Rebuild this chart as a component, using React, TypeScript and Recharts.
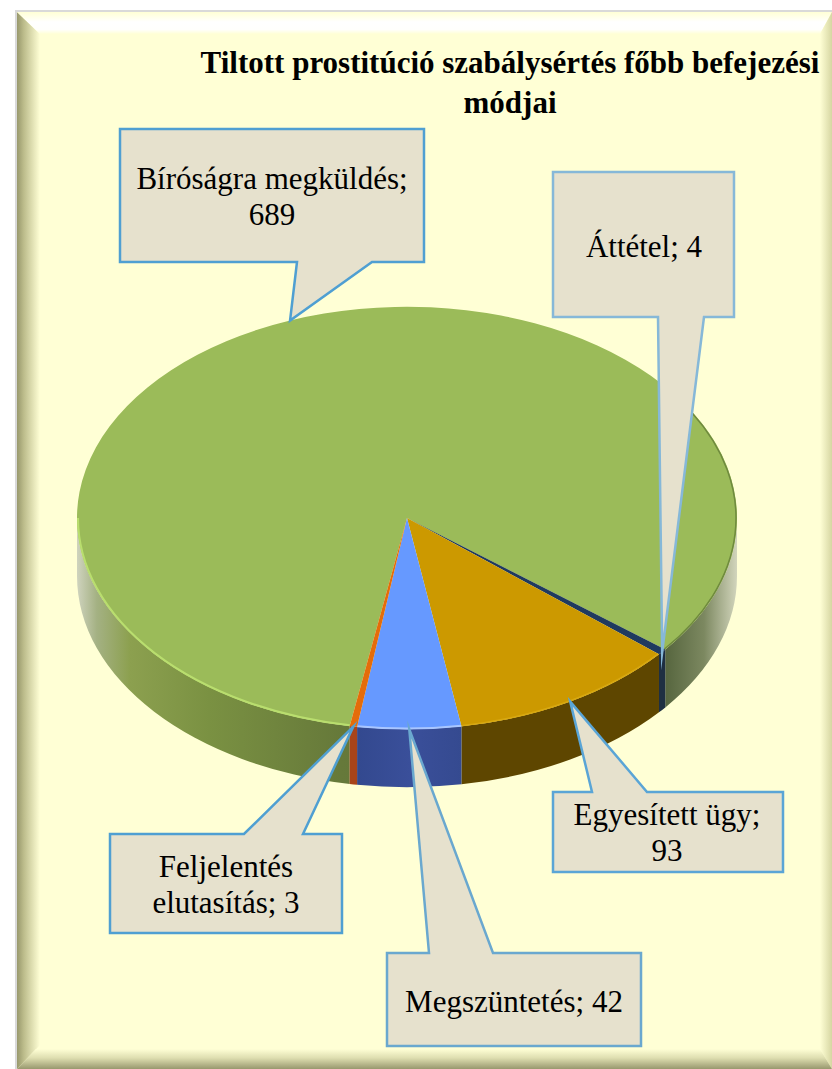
import React from "react";
import { PieChart, Pie } from "recharts";

const categories = ["Bíróságra megküldés", "Áttétel", "Egyesített ügy", "Megszüntetés", "Feljelentés elutasítás"];
const values = [689, 4, 93, 42, 3];
const titleLines = ["Tiltott prostitúció szabálysértés főbb befejezési", "módjai"];

const topColors = ["#9BBB59", "#1F3A5F", "#CC9900", "#6699FF", "#E46C0A"];
const wallFills = ["url(#wallGreen)", "#1E2F42", "#5E4600", "url(#wallBlue)", "#A8441A"];

// callout geometry: box left, top, right, bottom, pointer base a, b, edge of the pointer, text centre and line centres
const callouts = [
  { l: 120, t: 129, r: 424, b: 262, a: 297, c: 372, edge: "bottom", tx: 272, ty: [179, 215], lines: ["Bíróságra megküldés;", "689"], stroke: "#4F9FD2" },
  { l: 553, t: 172, r: 734, b: 317, a: 658, c: 704, edge: "bottom", tx: 644, ty: [247], lines: ["Áttétel; 4"], stroke: "#86B8D8" },
  { l: 553, t: 792, r: 783, b: 872, a: 592, c: 647, edge: "top", tx: 667, ty: [815, 851], lines: ["Egyesített ügy;", "93"], stroke: "#5AA5D6" },
  { l: 387, t: 953, r: 641, b: 1046, a: 429, c: 493, edge: "top", tx: 514, ty: [1002], lines: ["Megszüntetés; 42"], stroke: "#6AA8CF" },
  { l: 110, t: 834, r: 342, b: 933, a: 244, c: 303, edge: "top", tx: 226, ty: [867, 903], lines: ["Feljelentés", "elutasítás; 3"], stroke: "#4F9FD2" },
];

const W = 832;
const H = 1069;
const TILT = 0.64;
const DEPTH = 58;
const RAD = Math.PI / 180;
const FONT = "'Liberation Serif', 'Times New Roman', serif";

const pieData = categories.map((name, i) => ({ name, value: values[i] }));

const pt = (cx: number, cy: number, rx: number, deg: number, dy = 0) => ({
  x: cx + rx * Math.cos(deg * RAD),
  y: cy - rx * TILT * Math.sin(deg * RAD) + dy,
});

const arcTo = (rx: number, p: { x: number; y: number }, sweep: number, large: number) =>
  `A ${rx} ${rx * TILT} 0 ${large} ${sweep} ${p.x} ${p.y}`;

function frontRanges(start: number, end: number) {
  const out: [number, number][] = [];
  for (const k of [-1, 0, 1]) {
    const hi = Math.min(start, 360 * k);
    const lo = Math.max(end, -180 + 360 * k);
    if (hi > lo) out.push([hi, lo]);
  }
  return out;
}

function WallShape(props: any) {
  const { cx, cy, outerRadius: rx, startAngle, endAngle, index } = props;
  return (
    <g>
      {frontRanges(startAngle, endAngle).map(([hi, lo], i) => {
        const a = pt(cx, cy, rx, hi);
        const b = pt(cx, cy, rx, lo);
        const c = pt(cx, cy, rx, lo, DEPTH);
        const d = pt(cx, cy, rx, hi, DEPTH);
        const path = `M ${a.x} ${a.y} ${arcTo(rx, b, 1, 0)} L ${c.x} ${c.y} ${arcTo(rx, d, 0, 0)} Z`;
        return <path key={i} d={path} fill={wallFills[index]} />;
      })}
    </g>
  );
}

function TopShape(props: any) {
  const { cx, cy, outerRadius: rx, startAngle, endAngle, index } = props;
  const a = pt(cx, cy, rx, startAngle);
  const b = pt(cx, cy, rx, endAngle);
  const large = startAngle - endAngle > 180 ? 1 : 0;
  const path = `M ${cx} ${cy} L ${a.x} ${a.y} ${arcTo(rx, b, 1, large)} Z`;
  const rims: { hi: number; lo: number; color: string; w: number }[] = [];
  if (index === 0) {
    rims.push({ hi: startAngle, lo: 180, color: "#B9DE6E", w: 2 });
    rims.push({ hi: 30, lo: endAngle, color: "#6F8A3E", w: 1.5 });
  } else if (index === 3) {
    rims.push({ hi: startAngle, lo: endAngle, color: "#A9C6FF", w: 2 });
  } else if (index === 2) {
    rims.push({ hi: startAngle, lo: endAngle, color: "#D8A810", w: 1.5 });
  }
  return (
    <g>
      <path d={path} fill={topColors[index]} />
      {rims.map((r, i) => {
        const p = pt(cx, cy, rx - 1, r.hi);
        const q = pt(cx, cy, rx - 1, r.lo);
        const lg = r.hi - r.lo > 180 ? 1 : 0;
        return (
          <path key={i} d={`M ${p.x} ${p.y} ${arcTo(rx - 1, q, 1, lg)}`} fill="none" stroke={r.color} strokeWidth={r.w} />
        );
      })}
    </g>
  );
}

function Callout(props: any) {
  const { cx, cy, outerRadius: rx, midAngle, index } = props;
  const box = callouts[index];
  const tip = pt(cx, cy, rx, midAngle);
  const d =
    box.edge === "bottom"
      ? `M ${box.l} ${box.t} H ${box.r} V ${box.b} H ${box.c} L ${tip.x} ${tip.y} L ${box.a} ${box.b} H ${box.l} Z`
      : `M ${box.l} ${box.t} H ${box.a} L ${tip.x} ${tip.y} L ${box.c} ${box.t} H ${box.r} V ${box.b} H ${box.l} Z`;
  return (
    <g>
      <path d={d} fill="#E6E1CD" stroke={box.stroke} strokeWidth={2.5} strokeLinejoin="miter" strokeMiterlimit={30} />
      {box.lines.map((line, i) => (
        <text key={i} x={box.tx} y={box.ty[i] + 10} textAnchor="middle" fontFamily={FONT} fontSize={31} fill="#000">
          {line}
        </text>
      ))}
    </g>
  );
}

function Frame() {
  return (
    <svg width={W} height={H} style={{ position: "absolute", left: 0, top: 0 }}>
      <defs>
        <linearGradient id="fLeft" x1="0" x2="1" y1="0" y2="0">
          <stop offset="0" stopColor="#98986C" />
          <stop offset="0.3" stopColor="#BDBD8C" />
          <stop offset="1" stopColor="#FFFFD5" />
        </linearGradient>
        <linearGradient id="fRight" x1="0" x2="1" y1="0" y2="0">
          <stop offset="0" stopColor="#FFFFD5" />
          <stop offset="1" stopColor="#D6D6A2" />
        </linearGradient>
        <linearGradient id="fTop" x1="0" x2="0" y1="0" y2="1">
          <stop offset="0" stopColor="#FFFFD5" />
          <stop offset="0.3" stopColor="#FFFFF0" />
          <stop offset="0.45" stopColor="#FFFFFF" />
          <stop offset="0.8" stopColor="#FFFFFC" />
          <stop offset="1" stopColor="#FFFFD5" />
        </linearGradient>
        <linearGradient id="fBottom" x1="0" x2="0" y1="0" y2="1">
          <stop offset="0" stopColor="#FFFFD5" />
          <stop offset="0.45" stopColor="#DEDEB0" />
          <stop offset="1" stopColor="#98986E" />
        </linearGradient>
      </defs>
      <rect x={15} y={10} width={W - 15} height={H - 10} fill="#D9D9D9" />
      <rect x={17} y={12} width={W - 17} height={H - 12} fill="#FFFFD5" />
      <polygon points={`17,12 40,34 40,1045 17,1069`} fill="url(#fLeft)" />
      <polygon points={`17,12 ${W},12 ${W - 12},34 40,34`} fill="url(#fTop)" />
      <polygon points={`${W},12 ${W},1069 ${W - 12},1049 ${W - 12},34`} fill="url(#fRight)" />
      <polygon points={`17,1069 36,1049 ${W - 12},1049 ${W},1069`} fill="url(#fBottom)" />
    </svg>
  );
}

export default function App() {
  return (
    <div style={{ position: "absolute", left: 0, top: 0, width: W, height: H, overflow: "hidden" }}>
      <Frame />
      <div style={{ position: "absolute", left: 0, top: 0 }}>
        <PieChart width={W} height={H} margin={{ top: 0, right: 0, bottom: 0, left: 0 }}>
          <defs>
            <linearGradient id="wallGreen" gradientUnits="userSpaceOnUse" x1="77" x2="737" y1="0" y2="0">
              <stop offset="0" stopColor="#CFD3BE" />
              <stop offset="0.03" stopColor="#A4B183" />
              <stop offset="0.08" stopColor="#8CA04F" />
              <stop offset="0.2" stopColor="#7A9142" />
              <stop offset="0.4" stopColor="#66793A" />
              <stop offset="0.88" stopColor="#4F5F38" />
              <stop offset="0.95" stopColor="#7C8860" />
              <stop offset="1" stopColor="#D2D5BC" />
            </linearGradient>
            <linearGradient id="wallBlue" gradientUnits="userSpaceOnUse" x1="358" x2="462" y1="0" y2="0">
              <stop offset="0" stopColor="#33498F" />
              <stop offset="0.5" stopColor="#3A4F9A" />
              <stop offset="1" stopColor="#354A90" />
            </linearGradient>
          </defs>
          <Pie
            data={pieData}
            dataKey="value"
            nameKey="name"
            cx={407}
            cy={518}
            innerRadius={0}
            outerRadius={330}
            startAngle={260}
            endAngle={-100}
            stroke="none"
            label={false}
            labelLine={false}
            isAnimationActive={false}
            shape={WallShape}
          />
          <Pie
            data={pieData}
            dataKey="value"
            nameKey="name"
            cx={407}
            cy={518}
            innerRadius={0}
            outerRadius={330}
            startAngle={260}
            endAngle={-100}
            stroke="none"
            label={Callout}
            labelLine={false}
            isAnimationActive={false}
            shape={TopShape}
          />
          <text fontFamily={FONT} fontWeight="bold" fontSize={31} textAnchor="middle" fill="#000">
            <tspan x={510} y={73}>{titleLines[0]}</tspan>
            <tspan x={510} y={113}>{titleLines[1]}</tspan>
          </text>
        </PieChart>
      </div>
    </div>
  );
}
